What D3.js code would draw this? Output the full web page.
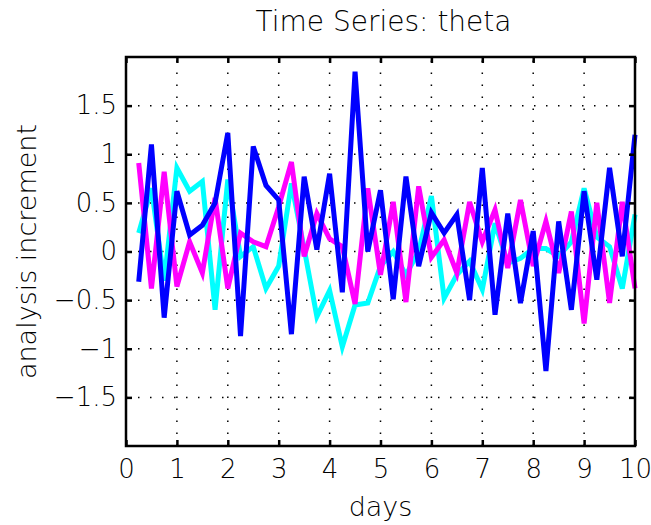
<!DOCTYPE html>
<html><head><meta charset="utf-8">
<script src="https://cdn.jsdelivr.net/npm/d3@7"></script>
<style>body{margin:0;background:#fff;} svg{display:block;} text{font-family:"DejaVu Sans",sans-serif;font-weight:200;fill:#000;}</style>
</head><body><div id="chart"></div>
<script>
const days = d3.range(1, 41).map(i => i * 0.25);
const cyanSeries = [0.19,0.65,-0.30,0.86,0.62,0.72,-0.60,0.74,-0.05,0.05,-0.38,-0.15,0.70,0.03,-0.67,-0.40,-0.98,-0.55,-0.53,-0.15,0.00,-0.24,0.00,0.57,-0.48,-0.24,-0.10,-0.39,0.29,-0.12,-0.07,0.03,0.03,-0.05,0.10,0.65,0.15,0.05,-0.38,0.38];
const magentaSeries = [0.91,-0.38,0.82,-0.36,0.10,-0.22,0.55,-0.38,0.19,0.10,0.05,0.46,0.92,-0.05,0.39,0.13,0.05,-0.54,0.65,-0.24,0.51,-0.52,0.67,-0.06,0.12,-0.22,0.51,0.10,0.43,-0.17,0.53,-0.15,0.31,-0.22,0.41,-0.74,0.50,-0.53,0.51,-0.38];
const blueSeries = [-0.31,1.10,-0.68,0.62,0.17,0.27,0.50,1.22,-0.87,1.08,0.68,0.53,-0.85,0.77,0.02,0.80,-0.42,1.85,0.00,0.63,-0.49,0.77,-0.15,0.40,0.19,0.38,-0.50,0.86,-0.65,0.39,-0.53,0.21,-1.23,0.31,-0.60,0.62,-0.29,0.86,-0.05,1.20];
const xTicks = [0,1,2,3,4,5,6,7,8,9,10];
const yTicks = [-1.5,-1,-0.5,0,0.5,1,1.5];
const yTickLabels = ["\u22121.5","\u22121","\u22120.5","0","0.5","1","1.5"];
const seriesList = [
  {name:"cyan", values:cyanSeries, color:"#00ffff"},
  {name:"magenta", values:magentaSeries, color:"#ff00ff"},
  {name:"blue", values:blueSeries, color:"#0000ff"}
];

const W = 651, H = 525;
const L = 126, R = 635, T = 57, B = 446;
const svg = d3.select("#chart").append("svg").attr("width", W).attr("height", H);
const x = d3.scaleLinear().domain([0,10]).range([L,R]);
const y = d3.scaleLinear().domain([-2,2]).range([B,T]);

// grid
const grid = svg.append("g");
grid.selectAll("line.gx").data(xTicks.slice(1,-1)).join("line")
  .attr("x1", d=>x(d)).attr("x2", d=>x(d)).attr("y1", B).attr("y2", T)
  .attr("stroke","#000").attr("stroke-width",1.5).attr("stroke-dasharray","1.5,10.5");
grid.selectAll("line.gy").data(yTicks).join("line")
  .attr("y1", d=>y(d)).attr("y2", d=>y(d)).attr("x1", L).attr("x2", R)
  .attr("stroke","#000").attr("stroke-width",1.5).attr("stroke-dasharray","1.5,10.5");

// lines
const line = d3.line().x((d,i)=>x(days[i])).y(d=>y(d));
svg.append("g").selectAll("path").data(seriesList).join("path")
  .attr("d", d=>line(d.values)).attr("fill","none")
  .attr("stroke", d=>d.color).attr("stroke-width",5).attr("stroke-linejoin","miter");

// axes (ticks inward, box)
const tl = 6;
const ax = svg.append("g");
ax.append("g").attr("transform",`translate(0,${B})`)
  .call(d3.axisBottom(x).tickValues(xTicks).tickSize(-tl).tickPadding(14).tickFormat(d3.format("d")))
  .call(g=>{g.select(".domain").remove(); g.selectAll("text").attr("font-size",26).attr("font-family","DejaVu Sans").attr("font-weight",200);});
ax.append("g").attr("transform",`translate(0,${T})`)
  .call(d3.axisTop(x).tickValues(xTicks).tickSize(-tl).tickFormat(""))
  .call(g=>g.select(".domain").remove());
ax.append("g").attr("transform",`translate(${L},0)`)
  .call(d3.axisLeft(y).tickValues(yTicks).tickSize(-tl).tickPadding(9).tickFormat((d,i)=>yTickLabels[i]))
  .call(g=>{g.select(".domain").remove(); g.selectAll("text").attr("font-size",26).attr("font-family","DejaVu Sans").attr("font-weight",200);});
ax.append("g").attr("transform",`translate(${R},0)`)
  .call(d3.axisRight(y).tickValues(yTicks).tickSize(-tl).tickFormat(""))
  .call(g=>g.select(".domain").remove());
ax.selectAll(".tick line").attr("stroke","#000").attr("stroke-width",2.5);
svg.append("rect").attr("x",L).attr("y",T).attr("width",R-L).attr("height",B-T)
  .attr("fill","none").attr("stroke","#000").attr("stroke-width",2.5);

// labels
svg.append("text").attr("x",(L+R)/2 + 3).attr("y",31).attr("text-anchor","middle")
  .attr("font-size",28).text("Time Series: theta");
svg.append("text").attr("x",(L+R)/2).attr("y",516).attr("text-anchor","middle")
  .attr("font-size",27).text("days");
svg.append("text").attr("transform",`translate(36,${(T+B)/2}) rotate(-90)`).attr("text-anchor","middle")
  .attr("font-size",27).text("analysis increment");
</script></body></html>
